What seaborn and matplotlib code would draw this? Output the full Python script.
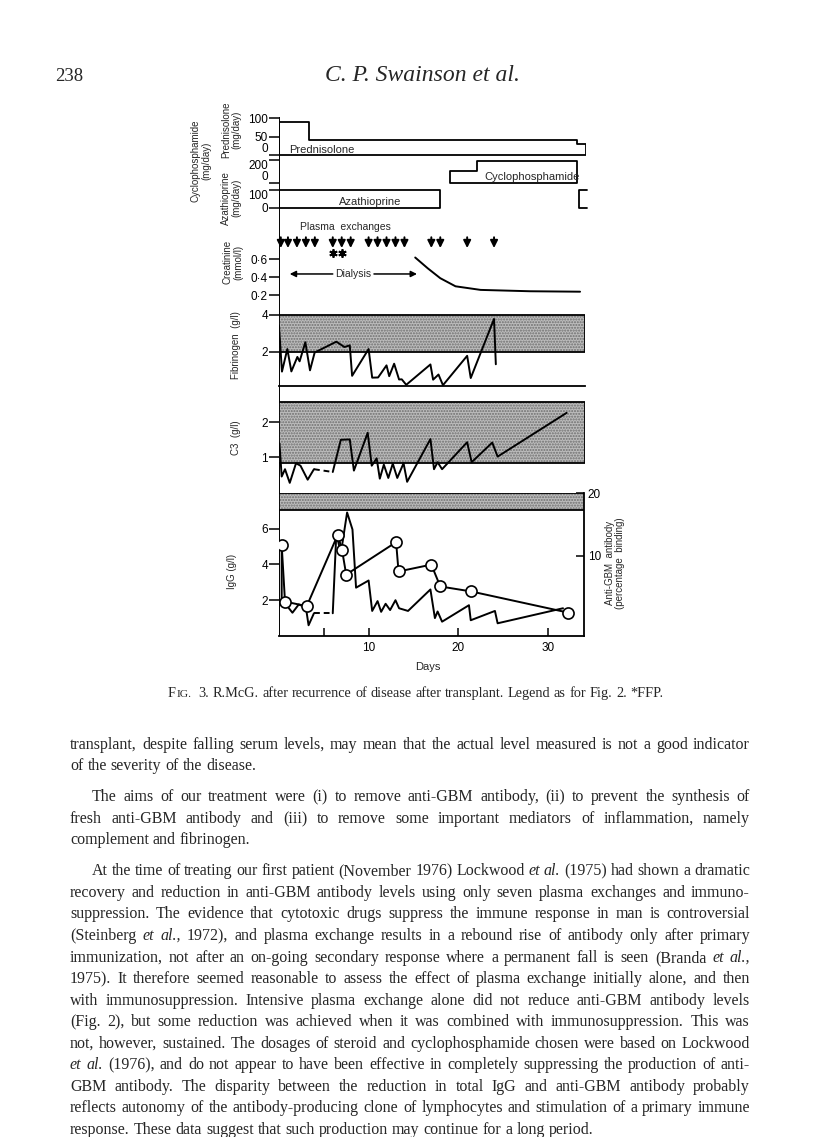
import matplotlib
matplotlib.use("Agg")
import matplotlib.pyplot as plt
import seaborn as sns

# ---------------- data (x = days) ----------------
pred_edges = [0, 3.4, 33.3, 34.3]          # prednisolone mg/day
pred_dose = [90, 40, 30]
aza_edges = [0, 18.0]                      # azathioprine mg/day
aza_dose = [100]
aza_restart = [33.5, 34.4]
cyclo_edges = [19.1, 22.1, 33.3]           # cyclophosphamide mg/day
cyclo_dose = [100, 190]

exchange_days = [0.2, 1, 2, 3, 4, 6, 7, 8, 10, 11, 12, 13, 14, 17, 18, 21, 24]
ffp_days = [6, 7]
dialysis_span = [1.2, 15.4]

creat_days = [15.2, 16.6, 18.0, 19.7, 22.5, 28.0, 33.6]
creat_vals = [0.62, 0.50, 0.39, 0.30, 0.26, 0.245, 0.24]

fib_days = [0.0, 0.33, 0.93, 1.38, 2.05, 2.3, 2.94, 3.46, 3.98, 6.4, 7.3, 7.9, 8.16,
            10.0, 10.4, 11.06, 12.0, 12.3, 12.85, 13.4, 13.7, 14.2, 16.9, 17.2, 17.8,
            18.3, 21.0, 21.4, 24.0, 24.2]
fib_vals = [3.4, 0.91, 2.14, 0.92, 1.71, 1.47, 2.51, 0.98, 1.95, 2.54, 2.25, 2.34, 0.68,
            2.14, 0.58, 0.59, 1.25, 0.66, 1.34, 0.48, 0.49, 0.19, 1.30, 0.47, 0.75,
            0.17, 1.77, 0.56, 3.78, 1.31]
fib_normal = [2, 4]

c3_days = [0.05, 0.3, 0.67, 1.2, 1.9, 2.4, 3.2, 3.9, 6.0, 6.9, 7.9, 8.36, 9.9, 10.35,
           10.9, 11.25, 11.7, 12.2, 12.7, 13.2, 13.9, 14.3, 16.9, 17.3, 17.7, 18.2,
           21.0, 21.5, 23.8, 24.4, 32.1]
c3_vals = [1.4, 0.45, 0.66, 0.27, 0.83, 0.76, 0.36, 0.66, 0.58, 1.5, 1.51, 0.62, 1.7, 0.76,
           0.97, 0.39, 0.79, 0.41, 0.82, 0.41, 0.83, 0.30, 1.52, 0.66, 0.86, 0.66,
           1.43, 0.86, 1.42, 1.02, 2.27]
c3_normal = [0.85, 2.57]
c3_gap = [3.9, 6.0]

igg_days = [0.3, 0.3, 0.6, 1.5, 2.2, 3.0, 3.3, 3.9, 6.0, 6.4, 6.9, 7.6, 8.2, 8.6, 10.0,
            10.4, 11.0, 11.4, 11.9, 12.4, 13.0, 13.4, 14.4, 16.9, 17.4, 17.7, 18.2,
            21.2, 21.4, 24.1, 24.4, 31.7]
igg_vals = [5.26, 1.91, 1.87, 1.3, 1.76, 1.6, 0.6, 1.27, 1.27, 5.75, 4.6, 6.9, 5.95, 2.7,
            3.1, 1.4, 1.95, 1.35, 1.8, 1.45, 2.0, 1.55, 1.4, 2.6, 1.0, 1.37, 0.8,
            1.72, 0.88, 1.4, 0.71, 1.55]
igg_gap = [3.9, 6.0]

gbm_days = [0.3, 0.67, 3.1, 6.56, 7.04, 7.5, 13.07, 13.34, 17.0, 18.0, 21.45, 32.3]
gbm_vals = [11.7, 2.67, 1.95, 13.4, 10.9, 7.0, 12.2, 7.5, 8.6, 5.1, 4.3, 0.9]
gbm_normal = [17.3, 20]

# ---------------- layout ----------------
W, H = 816, 1137
DAY0, PXDAY = 279, 8.96
sns.set_theme(style="ticks")
plt.rcParams["font.family"] = ["Liberation Sans", "DejaVu Sans"]
fig = plt.figure(figsize=(W / 100, H / 100), dpi=100)
fig.patch.set_facecolor("white")


def panel(zero_px, ppu, lo, hi, xmax=34.5):
    top = zero_px - hi * ppu
    bot = zero_px - lo * ppu
    ax = fig.add_axes([DAY0 / W, 1 - bot / H, xmax * PXDAY / W, (bot - top) / H])
    ax.set_xlim(0, xmax)
    ax.set_ylim(lo, hi)
    ax.patch.set_alpha(0)
    for s in ax.spines.values():
        s.set_visible(False)
    ax.set_xticks([])
    ax.tick_params(axis="y", direction="out", length=7, width=1.1, labelsize=8.5,
                   pad=1, colors="black")
    ax.grid(False)
    return ax


def line(ax, x, y, **kw):
    kw.setdefault("linewidth", 1.4)
    sns.lineplot(x=x, y=y, ax=ax, estimator=None, sort=False, color="black",
                 legend=False, **kw)


def gapped(ax, x, y, gap):
    pre = [(a, b) for a, b in zip(x, y) if a <= gap[0]]
    post = [(a, b) for a, b in zip(x, y) if a >= gap[1]]
    line(ax, [p[0] for p in pre], [p[1] for p in pre])
    line(ax, [p[0] for p in post], [p[1] for p in post])
    line(ax, [pre[-1][0], post[0][0]], [pre[-1][1], post[0][1]], linestyle=(0, (3, 2)))


def band(ax, x, lims):
    ax.fill_between(x, lims[0], lims[1], facecolor="#bcbcbc", edgecolor="#6e6e6e",
                    hatch="......", linewidth=0)
    ax.fill_between(x, lims[0], lims[1], facecolor="none", edgecolor="black", linewidth=1.3)


def nudge(ax, value, va):
    for lab, v in zip(ax.get_yticklabels(), ax.get_yticks()):
        if abs(v - value) < 1e-9:
            lab.set_verticalalignment(va)


# left axis line for the stacked panels
frame = fig.add_axes([DAY0 / W, 1 - 636 / H, 0.01, (636 - 117) / H])
frame.axis("off")
frame.axvline(0, color="black", linewidth=1.4)
frame.set_xlim(0, 1)

# prednisolone
ax = panel(155, 0.367, -15, 118, xmax=pred_edges[-1])
ax.fill_between(pred_edges, pred_dose + pred_dose[-1:], 0, step="post",
                facecolor="none", edgecolor="black", linewidth=1.3)
ax.set_yticks([0, 50, 100])
nudge(ax, 0, "bottom")
ax.text(1.1, 14, "Prednisolone", fontsize=8, va="center")

# cyclophosphamide
ax = panel(183, 0.115, -40, 215)
ax.fill_between(cyclo_edges, cyclo_dose + cyclo_dose[-1:], 0, step="post",
                facecolor="none", edgecolor="black", linewidth=1.3)
ax.set_yticks([0, 200])
nudge(ax, 200, "top")
nudge(ax, 0, "bottom")
ax.text(28.2, 52, "Cyclophosphamide", fontsize=8, va="center", ha="center")

# azathioprine
ax = panel(208, 0.178, -25, 125)
ax.fill_between(aza_edges, aza_dose + aza_dose[-1:], 0, step="post",
                facecolor="none", edgecolor="black", linewidth=1.3)
ax.plot([aza_restart[1], aza_restart[0], aza_restart[0], aza_restart[1]],
        [aza_dose[0], aza_dose[0], 0, 0], color="black", linewidth=1.3, clip_on=False)
ax.set_yticks([0, 100])
nudge(ax, 100, "top")
ax.text(10.2, 34, "Azathioprine", fontsize=8, va="center", ha="center")

# creatinine + plasma exchanges
ax = panel(313.3, 90, 0.1, 1.02)
line(ax, creat_days, creat_vals)
for d in exchange_days:
    ax.annotate("", xy=(d, 0.725), xytext=(d, 0.845),
                arrowprops=dict(arrowstyle="-|>", color="black", lw=1.4,
                                mutation_scale=11, shrinkA=0, shrinkB=0))
ax.plot(ffp_days, [0.665] * len(ffp_days), linestyle="", marker=(6, 2, 0),
        markersize=6, markeredgewidth=1.3, color="black")
ax.text(2.3, 0.96, "Plasma  exchanges", fontsize=7.5, va="center")
mid = (dialysis_span[0] + dialysis_span[1]) / 2
ax.text(mid, 0.437, "Dialysis", fontsize=7.5, va="center", ha="center")
for end, start in [(dialysis_span[0], mid - 2.3), (dialysis_span[1], mid + 2.3)]:
    ax.annotate("", xy=(end, 0.437), xytext=(start, 0.437),
                arrowprops=dict(arrowstyle="-|>", color="black", lw=1.1,
                                mutation_scale=9, shrinkA=0, shrinkB=0))
ax.set_yticks([0.2, 0.4, 0.6])
ax.set_yticklabels(["0·2", "0·4", "0·6"])

# fibrinogen
ax = panel(388.3, 18.35, -0.3, 4.5, xmax=34.1)
band(ax, [0, 34.1], fib_normal)
line(ax, fib_days, fib_vals)
ax.spines["bottom"].set_visible(True)
ax.spines["bottom"].set_position(("data", 0.1))
ax.spines["bottom"].set_linewidth(1.3)
ax.spines["bottom"].set_color("black")
ax.set_yticks([2, 4])

# C3
ax = panel(492.3, 35, 0.1, 2.7, xmax=34.1)
band(ax, [0, 34.1], c3_normal)
gapped(ax, c3_days, c3_vals, c3_gap)
ax.set_yticks([1, 2])

# IgG and anti-GBM
igg = panel(636, 17.9, 0, 7.99, xmax=34)
gapped(igg, igg_days, igg_vals, igg_gap)
igg.set_yticks([2, 4, 6])
for s in ["bottom", "right"]:
    igg.spines[s].set_visible(True)
    igg.spines[s].set_color("black")
    igg.spines[s].set_linewidth(1.3)
igg.set_xticks([5, 10, 20, 30])
igg.set_xticklabels(["", "10", "20", "30"])
igg.tick_params(axis="x", direction="in", length=6, width=1.1, labelsize=8.5, pad=4,
                colors="black")
gbm = igg.twinx()
gbm.set_ylim(-2.84, 20.08)
gbm.patch.set_alpha(0)
for s in gbm.spines.values():
    s.set_visible(False)
band(gbm, [0, 34], gbm_normal)
line(gbm, gbm_days, gbm_vals, marker="o", markersize=8, markerfacecolor="white",
     markeredgecolor="black", markeredgewidth=1.2)
gbm.set_xlim(0, 34)
gbm.set_yticks([10, 20])
gbm.tick_params(axis="y", direction="in", length=6, width=1.1, labelsize=8.5, pad=3,
                colors="black")
gbm.grid(False)
igg.set_xlabel("")
gbm.set_ylabel("")
fig.text(428 / W, 1 - 667 / H, "Days", fontsize=8, ha="center", va="center")

# axis titles
ylabels = [
    (201, 161, "Cyclophosphamide\n(mg/day)"),
    (231, 198, "Azathioprine\n(mg/day)"),
    (231, 130, "Prednisolone\n(mg/day)"),
    (233, 262, "Creatinine\n(mmol/l)"),
    (236, 345, "Fibrinogen  (g/l)"),
    (236, 438, "C3  (g/l)"),
    (232, 571, "IgG (g/l)"),
    (615, 563, "Anti-GBM  antibody\n(percentage  binding)"),
]
for x, y, t in ylabels:
    fig.text(x / W, 1 - y / H, t, rotation=90, fontsize=7, ha="center", va="center",
             linespacing=1.05)

# ---------------- page text ----------------
SERIF = ["Liberation Serif", "DejaVu Serif"]
fig.text(55 / W, 1 - 81 / H, "238", fontsize=13.5, family=SERIF, va="baseline")
fig.text(422 / W, 1 - 81 / H, "C. P. Swainson et al.", fontsize=17, family=SERIF,
         style="italic", ha="center", va="baseline")

renderer = fig.canvas.get_renderer()


def place(y, x0, x1, parts, justify, size):
    texts = [fig.text(0, 1 - y / H, w, fontsize=sz, family=SERIF, style=st, va="baseline")
             for w, st, sz in parts]
    widths = [t.get_window_extent(renderer).width for t in texts]
    gap = size * 100 / 72 * 0.25
    if justify and len(texts) > 1:
        gap = max((x1 - x0 - sum(widths)) / (len(texts) - 1), 2.0)
    x = x0
    for t, w in zip(texts, widths):
        t.set_x(x / W)
        x += w + gap
    return texts


CAP = 10.3
cap = [("F", "normal", CAP), ("IG.", "normal", CAP * 0.8)]
cap += [(w, "normal", CAP) for w in
        "3. R.McG. after recurrence of disease after transplant. Legend as for Fig. 2. *FFP.".split()]
texts = place(697, 168, 665, cap, False, CAP)
# small caps piece sits tight against the F
f_w = texts[0].get_window_extent(renderer).width
texts[1].set_x((168 + f_w + 0.5) / W)

body = [
    ("transplant, despite falling serum levels, may mean that the actual level measured is not a good indicator", 0, True),
    ("of the severity of the disease.", 0, False),
    ("The aims of our treatment were (i) to remove anti-GBM antibody, (ii) to prevent the synthesis of", 1, True),
    ("fresh anti-GBM antibody and (iii) to remove some important mediators of inflammation, namely", 0, True),
    ("complement and fibrinogen.", 0, False),
    ("At the time of treating our first patient (November 1976) Lockwood _et _al. (1975) had shown a dramatic", 1, True),
    ("recovery and reduction in anti-GBM antibody levels using only seven plasma exchanges and immuno-", 0, True),
    ("suppression. The evidence that cytotoxic drugs suppress the immune response in man is controversial", 0, True),
    ("(Steinberg _et _al., 1972), and plasma exchange results in a rebound rise of antibody only after primary", 0, True),
    ("immunization, not after an on-going secondary response where a permanent fall is seen (Branda _et _al.,", 0, True),
    ("1975). It therefore seemed reasonable to assess the effect of plasma exchange initially alone, and then", 0, True),
    ("with immunosuppression. Intensive plasma exchange alone did not reduce anti-GBM antibody levels", 0, True),
    ("(Fig. 2), but some reduction was achieved when it was combined with immunosuppression. This was", 0, True),
    ("not, however, sustained. The dosages of steroid and cyclophosphamide chosen were based on Lockwood", 0, True),
    ("_et _al. (1976), and do not appear to have been effective in completely suppressing the production of anti-", 0, True),
    ("GBM antibody. The disparity between the reduction in total IgG and anti-GBM antibody probably", 0, True),
    ("reflects autonomy of the antibody-producing clone of lymphocytes and stimulation of a primary immune", 0, True),
    ("response. These data suggest that such production may continue for a long period.", 0, False),
]
body_y = [744, 765, 796, 818, 839, 870, 892, 913, 935, 957, 978, 1000, 1021, 1043,
          1064, 1086, 1107, 1129]
BODY = 11.5
for (txt, indent, just), y in zip(body, body_y):
    parts = []
    for w in txt.split():
        if w.startswith("_"):
            parts.append((w[1:], "italic", BODY))
        else:
            parts.append((w, "normal", BODY))
    place(y + 5, 70 + 22 * indent, 750, parts, just, BODY)

fig.savefig("out.png", dpi=100, facecolor="white")
